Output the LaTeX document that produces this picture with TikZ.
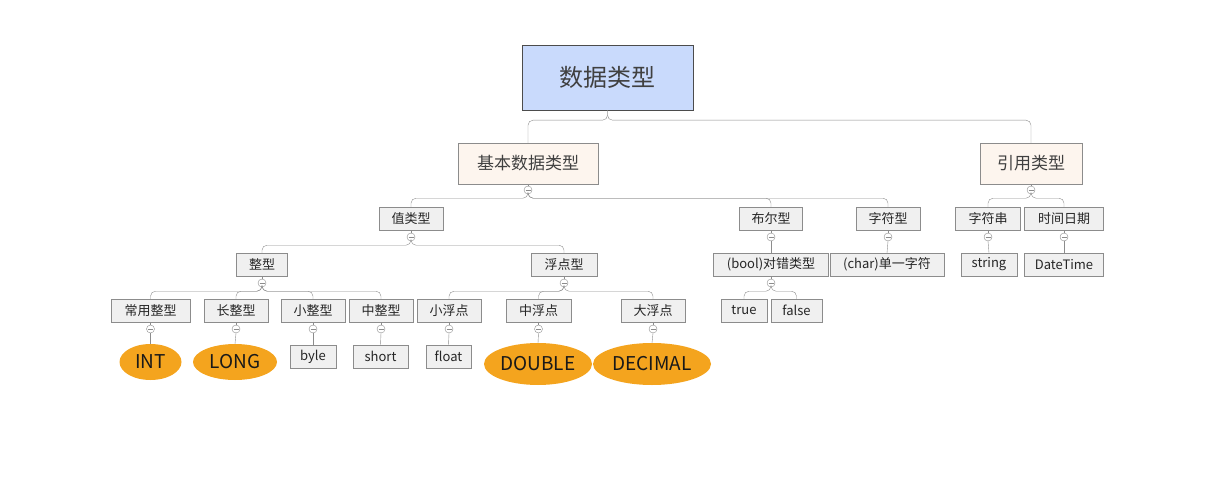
\documentclass[tikz,border=0pt]{standalone}
\usepackage{fontspec}
\setmainfont{Noto Sans CJK SC}
\definecolor{rootblue}{HTML}{C9DAFC}
\definecolor{cream}{HTML}{FDF5EE}
\definecolor{boxgray}{HTML}{F0F0F0}
\definecolor{linegray}{HTML}{8C8C8C}
\definecolor{amber}{HTML}{F4A41E}
\tikzset{
  box/.style={draw=linegray,fill=boxgray,inner sep=0,text=black!85,font=\fontsize{13}{15}\selectfont},
  topbox/.style={draw=linegray,fill=cream,inner sep=0,text=black!75,font=\fontsize{17}{20}\selectfont,minimum height=41},
  oval/.style={ellipse,fill=amber,inner sep=0,text=black!90,font=\fontsize{19}{22}\selectfont},
  fold/.style={circle,draw=linegray,fill=white,minimum size=8,inner sep=0,
    path picture={\draw[linegray] ([xshift=-2.5]path picture bounding box.center) -- ++(5,0);}},
  conn/.style={draw=linegray,rounded corners=5}
}
\usetikzlibrary{shapes.geometric}
\begin{document}
\begin{tikzpicture}[x=1pt,y=-1pt]
  \useasboundingbox (0,0) rectangle (1225,492);

  % root
  \node[draw=black!70,fill=rootblue,minimum width=171,minimum height=65,inner sep=0,
    font=\fontsize{24}{28}\selectfont,text=black!75] (root) at (607.5,77.5) {数据类型};

  % level 1
  \node[topbox,minimum width=140] (basic) at (528,163.5) {基本数据类型};
  \node[topbox,minimum width=102] (ref) at (1031,163.5) {引用类型};
  \node[fold] (fbasic) at (528,190) {};
  \node[fold] (fref) at (1031,190) {};

  % level 2
  \foreach \name/\x/\w/\t in {val/411/64/值类型, bool/771/63/布尔型, char/888/64/字符型,
      str/988/65/字符串, date/1064/79/时间日期}
    \node[box,minimum width=\w,minimum height=23] (\name) at (\x,218.5) {\t};
  \foreach \name/\x in {fval/411, fbool/771, fchar/888, fstr/988, fdate/1064}
    \node[fold] (\name) at (\x,237) {};

  % level 3
  \foreach \name/\x/\w/\t in {int/262/51/整型, flt/564/66/浮点型, boolt/771/115/(bool)对错类型,
      chart/887/114/(char)单一字符, string/989/56/string, datetime/1064/79/DateTime}
    \node[box,minimum width=\w,minimum height=23] (\name) at (\x,264.5) {\t};
  \foreach \name/\x in {fint/262, fflt/564, fboolt/771}
    \node[fold] (\name) at (\x,283) {};

  % level 4
  \foreach \name/\x/\w/\t in {common/150.5/79/常用整型, long/236/64/长整型, small/313/64/小整型,
      mid/381/64/中整型, sf/449/64/小浮点, mf/538.5/65/中浮点, bf/653/64/大浮点,
      true/744/46/true, false/796.5/51/false}
    \node[box,minimum width=\w,minimum height=23] (\name) at (\x,310.5) {\t};
  \foreach \name/\x in {fcommon/150.5, flong/236, fsmall/313, fmid/381, fsf/449, fmf/538.5, fbf/653}
    \node[fold] (\name) at (\x,329) {};

  % level 5
  \node[oval,minimum width=62,minimum height=36] (INT) at (150.5,362) {INT};
  \node[oval,minimum width=84,minimum height=36] (LONG) at (235,362) {LONG};
  \node[box,minimum width=46,minimum height=23] (byle) at (313,356.5) {byle};
  \node[box,minimum width=55,minimum height=23] (short) at (380.5,356.5) {short};
  \node[box,minimum width=45,minimum height=23] (float) at (448.5,356.5) {float};
  \node[oval,minimum width=108,minimum height=42] (DOUBLE) at (538,364) {DOUBLE};
  \node[oval,minimum width=118,minimum height=42] (DECIMAL) at (652,364) {DECIMAL};

  % connectors
  \begin{scope}[on background layer/.style={}]
    \foreach \c in {basic,ref}
      \draw[conn] (root.south) -- ++(0,10) -| (\c.north);
    \draw[linegray] (basic.south) -- (fbasic.north);
    \draw[linegray] (ref.south) -- (fref.north);
    \foreach \c in {val,bool,char}
      \draw[conn] (fbasic.south) -- ++(0,4) -| (\c.north);
    \foreach \c in {str,date}
      \draw[conn] (fref.south) -- ++(0,4) -| (\c.north);
    \foreach \p/\c in {val/fval,bool/fbool,char/fchar,str/fstr,date/fdate,
        int/fint,flt/fflt,boolt/fboolt,common/fcommon,long/flong,small/fsmall,
        mid/fmid,sf/fsf,mf/fmf,bf/fbf}
      \draw[linegray] (\p.south) -- (\c.north);
    \foreach \c in {int,flt}
      \draw[conn] (fval.south) -- ++(0,4) -| (\c.north);
    \draw[linegray] (fbool.south) -- (boolt.north);
    \draw[linegray] (fchar.south) -- (chart.north);
    \draw[linegray] (fstr.south) -- (string.north);
    \draw[linegray] (fdate.south) -- (datetime.north);
    \foreach \c in {common,long,small,mid}
      \draw[conn] (fint.south) -- ++(0,4) -| (\c.north);
    \foreach \c in {sf,mf,bf}
      \draw[conn] (fflt.south) -- ++(0,4) -| (\c.north);
    \foreach \c in {true,false}
      \draw[conn] (fboolt.south) -- ++(0,4) -| (\c.north);
    \foreach \p/\c in {fcommon/INT,flong/LONG,fsmall/byle,fmid/short,fsf/float,fmf/DOUBLE,fbf/DECIMAL}
      \draw[linegray] (\p.south) -- (\c.north);
  \end{scope}
\end{tikzpicture}
\end{document}
